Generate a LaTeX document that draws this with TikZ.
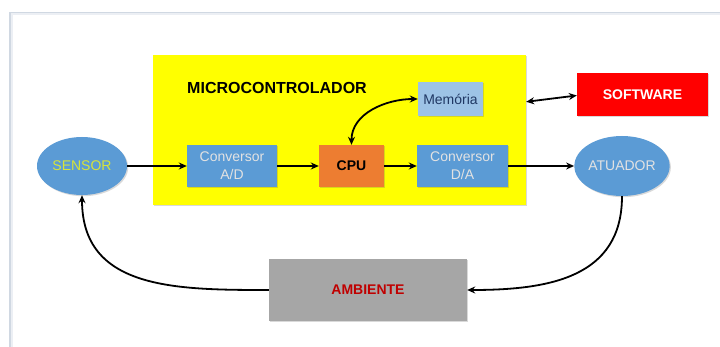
\documentclass[tikz,border=0pt]{standalone}
\usepackage{fontspec}
\setmainfont{Liberation Sans}
\usetikzlibrary{arrows.meta,shadows,shapes.geometric}
\definecolor{mcyellow}{RGB}{255,255,0}
\definecolor{boxblue}{RGB}{91,155,213}
\definecolor{memblue}{RGB}{157,195,230}
\definecolor{cpuorange}{RGB}{237,125,49}
\definecolor{swred}{RGB}{255,0,0}
\definecolor{ambgray}{RGB}{166,166,166}
\definecolor{ambtext}{RGB}{192,0,0}
\definecolor{memtext}{RGB}{32,56,100}
\definecolor{lighttext}{RGB}{226,226,226}
\definecolor{sensortext}{RGB}{215,228,58}
\definecolor{framecol}{RGB}{208,216,226}
\tikzset{
  txt/.style={font=\fontsize{14}{18}\selectfont, align=center},
  shad/.style={drop shadow={shadow xshift=1.2pt, shadow yshift=-1.2pt, opacity=0.25, fill=black!60}},
  blk/.style={rectangle, draw=none, inner sep=0pt, txt, shad},
  ell/.style={ellipse, draw=none, fill=boxblue, inner sep=0pt, txt, shad},
  conn/.style={-{Stealth[length=8pt,width=7pt]}, line width=1.8pt, black},
  dconn/.style={{Stealth[length=8pt,width=7pt]}-{Stealth[length=8pt,width=7pt]}, line width=1.8pt, black}
}
\begin{document}
\begin{tikzpicture}[x=1pt,y=-1pt]
\useasboundingbox (0,0) rectangle (720,347);
% frame
\draw[framecol, line width=1.2pt] (10,347) -- (10,13) -- (720,13);
\draw[framecol!40, line width=2pt] (11.5,347) -- (11.5,14.5) -- (720,14.5);

% microcontroller box
\node[blk, fill=mcyellow, minimum width=373pt, minimum height=150pt] (mc) at (339.5,130) {};
\node[font=\fontsize{16}{18}\selectfont\bfseries, text=black, inner sep=0pt] (title) at (277,88) {MICROCONTROLADOR};

\node[blk, fill=memblue, text=memtext, minimum width=65pt, minimum height=34pt] (mem) at (450.5,99) {Memória};
\node[blk, fill=boxblue, text=lighttext, minimum width=90pt, minimum height=42pt] (ad) at (232,166) {Conversor\\A/D};
\node[blk, fill=cpuorange, text=black, font=\fontsize{14}{18}\selectfont\bfseries, minimum width=65pt, minimum height=42pt] (cpu) at (351.5,166) {CPU};
\node[blk, fill=boxblue, text=lighttext, minimum width=91pt, minimum height=42pt] (da) at (462.5,166) {Conversor\\D/A};

\node[ell, text=sensortext, minimum width=90pt, minimum height=58pt] (sensor) at (82,166) {SENSOR};
\node[ell, text=lighttext, minimum width=90pt, minimum height=60pt] (atuador) at (622,166) {ATUADOR};

\node[blk, fill=swred, text=white, font=\fontsize{14}{18}\selectfont\bfseries, minimum width=131pt, minimum height=43pt] (sw) at (642.5,94.5) {SOFTWARE};
\node[blk, fill=ambgray, text=ambtext, font=\fontsize{14}{18}\selectfont\bfseries, minimum width=198pt, minimum height=62pt] (amb) at (368,290) {AMBIENTE};

% connectors
\draw[conn] (sensor.east) -- (ad.west);
\draw[conn] (ad.east) -- (cpu.west);
\draw[conn] (cpu.east) -- (da.west);
\draw[conn] (da.east) -- (atuador.west);
\draw[dconn] (cpu.north) to[out=90,in=180,looseness=1.0] (mem.west);
\draw[dconn] ([yshift=-47pt]mc.north east) -- ([yshift=-1pt]sw.west);
\draw[conn] (atuador.south) to[out=-90,in=0,looseness=1.15] (amb.east);
\draw[conn] (amb.west) to[out=180,in=-90,looseness=1.15] (sensor.south);
\end{tikzpicture}
\end{document}
